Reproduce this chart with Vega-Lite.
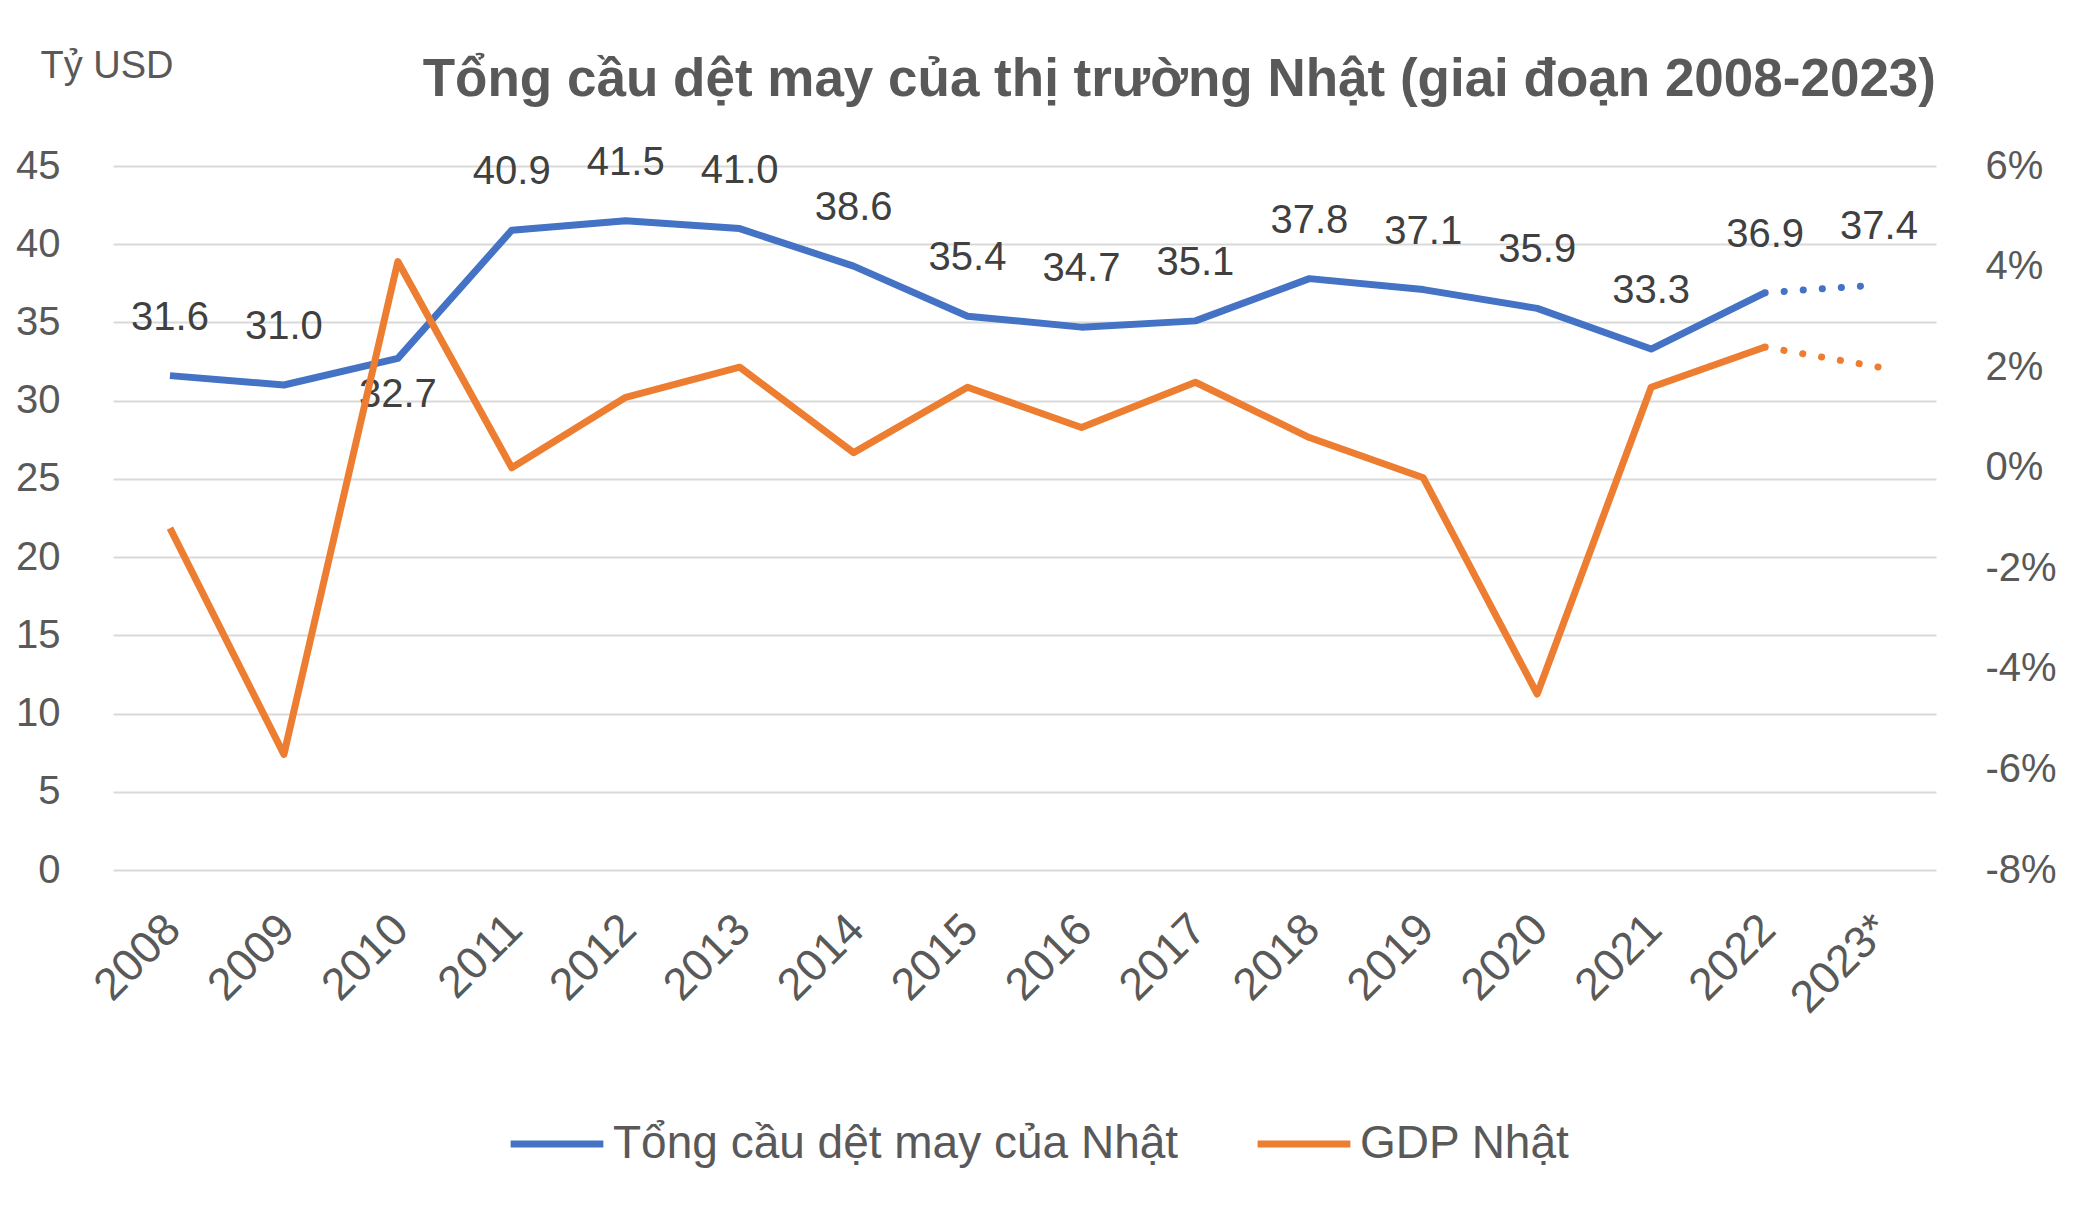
{
  "$schema": "https://vega.github.io/schema/vega-lite/v6.json",
  "width": 1823,
  "height": 704,
  "autosize": {"type": "none"},
  "padding": {"left": 113, "top": 166, "right": 140, "bottom": 353},
  "background": "white",
  "config": {
    "font": "Liberation Sans",
    "view": {"stroke": null}
  },
  "title": {
    "text": "Tổng cầu dệt may của thị trường Nhật (giai đoạn 2008-2023)",
    "anchor": "end",
    "frame": "group",
    "fontSize": 53,
    "fontWeight": "bold",
    "color": "#595959",
    "offset": 0,
    "dy": 60
  },
  "data": {
    "values": [
      {"year": "2008", "demand": 31.6, "gdp": -0.012},
      {"year": "2009", "demand": 31.0, "gdp": -0.057},
      {"year": "2010", "demand": 32.7, "gdp": 0.041},
      {"year": "2011", "demand": 40.9, "gdp": 0.0},
      {"year": "2012", "demand": 41.5, "gdp": 0.014},
      {"year": "2013", "demand": 41.0, "gdp": 0.020},
      {"year": "2014", "demand": 38.6, "gdp": 0.003},
      {"year": "2015", "demand": 35.4, "gdp": 0.016},
      {"year": "2016", "demand": 34.7, "gdp": 0.008},
      {"year": "2017", "demand": 35.1, "gdp": 0.017},
      {"year": "2018", "demand": 37.8, "gdp": 0.006},
      {"year": "2019", "demand": 37.1, "gdp": -0.002},
      {"year": "2020", "demand": 35.9, "gdp": -0.045},
      {"year": "2021", "demand": 33.3, "gdp": 0.016},
      {"year": "2022", "demand": 36.9, "gdp": 0.024},
      {"year": "2023*", "demand": 37.4, "gdp": 0.020}
    ]
  },
  "encoding": {
    "x": {
      "field": "year",
      "type": "ordinal",
      "scale": {"padding": 0.5},
      "axis": {
        "title": null,
        "domain": false,
        "ticks": false,
        "labelAngle": -45,
        "labelFontSize": 45,
        "labelColor": "#595959",
        "labelPadding": 36,
        "labelOffset": -13
      }
    }
  },
  "layer": [
    {
      "encoding": {
        "y": {
          "field": "demand",
          "type": "quantitative",
          "scale": {"domain": [0, 45], "nice": false, "zero": true},
          "axis": {
            "orient": "left",
            "values": [0, 5, 10, 15, 20, 25, 30, 35, 40, 45],
            "domain": false,
            "ticks": false,
            "grid": true,
            "gridColor": "#D9D9D9",
            "gridWidth": 2,
            "labelFontSize": 40,
            "labelColor": "#595959",
            "labelPadding": 53,
            "title": "Tỷ USD",
            "titleFontSize": 38,
            "titleFontWeight": "normal",
            "titleColor": "#595959",
            "titleAngle": 0,
            "titleAlign": "left",
            "titleBaseline": "middle",
            "titleX": -73,
            "titleY": -100
          }
        }
      },
      "layer": [
        {
          "transform": [{"filter": "datum.year != '2023*'"}],
          "mark": {"type": "line", "strokeWidth": 7, "strokeJoin": "round"},
          "encoding": {
            "color": {
              "datum": "Tổng cầu dệt may của Nhật",
              "scale": {
                "domain": ["Tổng cầu dệt may của Nhật", "GDP Nhật"],
                "range": ["#4472C4", "#ED7D31"]
              },
              "legend": {
                "title": null,
                "orient": "none",
                "direction": "horizontal",
                "legendX": 394,
                "legendY": 928,
                "symbolType": "stroke",
                "symbolStrokeWidth": 7,
                "symbolSize": 8600,
                "labelFontSize": 46,
                "labelColor": "#595959",
                "labelLimit": 0,
                "labelOffset": 6,
                "columnPadding": 64
              }
            }
          }
        },
        {
          "transform": [{"filter": "datum.year == '2022' || datum.year == '2023*'"}],
          "mark": {"type": "line", "color": "#4472C4", "strokeWidth": 7, "strokeCap": "round", "strokeDash": [0.1, 19]},
          "encoding": {}
        },
        {
          "transform": [{"filter": "datum.year != '2010'"}],
          "mark": {"type": "text", "dy": -58, "fontSize": 40, "color": "#404040", "baseline": "middle"},
          "encoding": {"text": {"field": "demand", "type": "quantitative", "format": ".1f"}}
        },
        {
          "transform": [{"filter": "datum.year == '2010'"}],
          "mark": {"type": "text", "dy": 37, "fontSize": 40, "color": "#404040", "baseline": "middle"},
          "encoding": {"text": {"field": "demand", "type": "quantitative", "format": ".1f"}}
        }
      ]
    },
    {
      "encoding": {
        "y": {
          "field": "gdp",
          "type": "quantitative",
          "scale": {"domain": [-0.08, 0.06], "nice": false, "zero": false},
          "axis": {
            "orient": "right",
            "values": [-0.08, -0.06, -0.04, -0.02, 0, 0.02, 0.04, 0.06],
            "format": ".0%",
            "labelExpr": "replace(datum.label, '−', '-')",
            "domain": false,
            "ticks": false,
            "grid": false,
            "labelFontSize": 40,
            "labelColor": "#595959",
            "labelPadding": 49,
            "title": null
          }
        }
      },
      "layer": [
        {
          "transform": [{"filter": "datum.year != '2023*'"}],
          "mark": {"type": "line", "strokeWidth": 7, "strokeJoin": "round"},
          "encoding": {"color": {"datum": "GDP Nhật"}}
        },
        {
          "transform": [{"filter": "datum.year == '2022' || datum.year == '2023*'"}],
          "mark": {"type": "line", "color": "#ED7D31", "strokeWidth": 7, "strokeCap": "round", "strokeDash": [0.1, 19]},
          "encoding": {}
        }
      ]
    }
  ],
  "resolve": {"scale": {"y": "independent"}}
}
